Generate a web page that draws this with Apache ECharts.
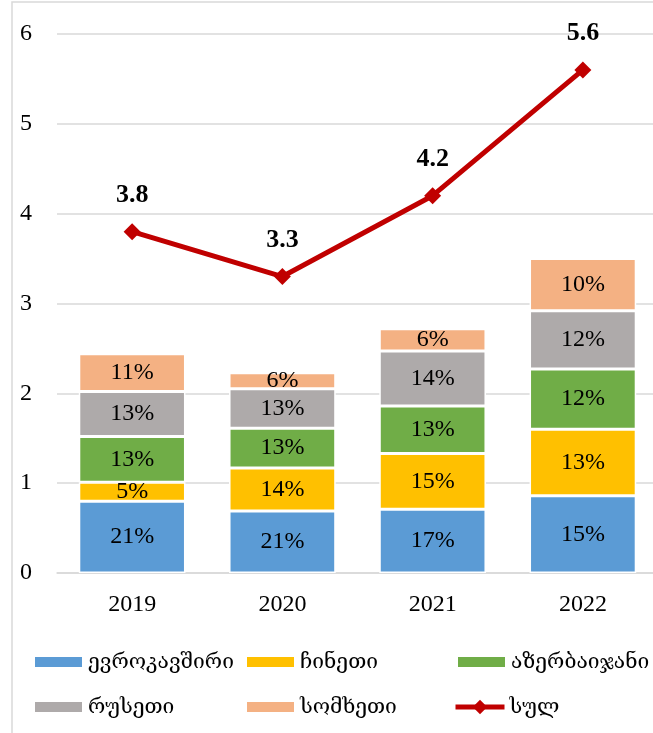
<!DOCTYPE html>
<html>
<head>
<meta charset="utf-8">
<script src="https://cdn.jsdelivr.net/npm/echarts@6/dist/echarts.min.js"></script>
<style>
  html, body { margin: 0; padding: 0; background: #fff; overflow: hidden; }
  #chart { width: 660px; height: 733px; }
</style>
</head>
<body>
<div id="chart"></div>
<script>
// data
var years = ['2019', '2020', '2021', '2022'];
var seriesNames = ['ევროკავშირი', 'ჩინეთი', 'აზერბაიჯანი', 'რუსეთი', 'სომხეთი'];
var totalName = 'სულ';
var euVals = [0.80, 0.69, 0.71, 0.86];
var chinaVals = [0.21, 0.48, 0.62, 0.74];
var azeVals = [0.51, 0.44, 0.53, 0.67];
var rusVals = [0.50, 0.44, 0.61, 0.65];
var armVals = [0.42, 0.18, 0.25, 0.58];
var euPct = ['21%', '21%', '17%', '15%'];
var chinaPct = ['5%', '14%', '15%', '13%'];
var azePct = ['13%', '13%', '13%', '12%'];
var rusPct = ['13%', '13%', '14%', '12%'];
var armPct = ['11%', '6%', '6%', '10%'];
var totalVals = [3.8, 3.3, 4.2, 5.6];
var yTicks = [0, 1, 2, 3, 4, 5, 6];

var colors = ['#5b9bd5', '#ffc000', '#70ad47', '#aeaaaa', '#f4b183'];
var font = "'Liberation Serif', 'DejaVu Serif', serif";

var stackVals = [euVals, chinaVals, azeVals, rusVals, armVals];
var stackPct = [euPct, chinaPct, azePct, rusPct, armPct];

var series = [];
for (var i = 0; i < seriesNames.length; i++) {
    (function (idx) {
        series.push({
            name: seriesNames[idx],
            type: 'bar',
            stack: 'total',
            barCategoryGap: '29%',
            itemStyle: { color: colors[idx], borderColor: '#fff', borderWidth: 1.5 },
            label: {
                show: true,
                position: 'inside',
                color: '#000',
                fontFamily: font,
                fontSize: 24,
                formatter: function (p) { return stackPct[idx][p.dataIndex]; }
            },
            data: stackVals[idx]
        });
    })(i);
}
series.push({
    name: totalName,
    type: 'line',
    symbol: 'diamond',
    symbolSize: 17,
    z: 5,
    lineStyle: { color: '#c00000', width: 5 },
    itemStyle: { color: '#c00000' },
    label: {
        show: true,
        position: 'top',
        distance: 15,
        color: '#000',
        fontFamily: font,
        fontWeight: 'bold',
        fontSize: 26
    },
    data: totalVals
});

var legendText = { color: '#000', fontFamily: font, fontSize: 21, lineHeight: 24 };
function makeLegend(left, top, names, h) {
    var items = names.map(function (n) {
        return n === totalName ? { name: n } : { name: n, icon: 'rect' };
    });
    return {
        orient: 'vertical',
        left: left,
        top: top,
        padding: 0,
        itemWidth: 49,
        itemHeight: h,
        itemGap: 21,
        lineStyle: { width: 5 },
        textStyle: legendText,
        data: items
    };
}

var chart = echarts.init(document.getElementById('chart'));
chart.setOption({
    animation: false,
    backgroundColor: '#fff',
    grid: { left: 57, right: 2, top: 34, bottom: 160 },
    legend: [
        makeLegend(33, 650, [seriesNames[0], seriesNames[3]], 12),
        makeLegend(245, 650, [seriesNames[1], seriesNames[4]], 12),
        makeLegend(456, 650, [seriesNames[2]], 12),
        makeLegend(453, 695, [totalName], 18)
    ],
    xAxis: {
        type: 'category',
        data: years,
        axisTick: { show: false },
        axisLine: { lineStyle: { color: '#d9d9d9', width: 1.5 } },
        axisLabel: { color: '#000', fontFamily: font, fontSize: 24, margin: 20 }
    },
    yAxis: {
        type: 'value',
        min: yTicks[0],
        max: yTicks[yTicks.length - 1],
        interval: 1,
        axisLine: { show: false },
        axisTick: { show: false },
        splitLine: { lineStyle: { color: '#d9d9d9', width: 1.5 } },
        axisLabel: { color: '#000', fontFamily: font, fontSize: 24, margin: 25 }
    },
    graphic: [{
        type: 'polyline',
        silent: true,
        shape: { points: [[12, 733], [12, 2], [660, 2]] },
        style: { stroke: '#d9d9d9', lineWidth: 1.5, fill: null }
    }],
    series: series
});
</script>
</body>
</html>
